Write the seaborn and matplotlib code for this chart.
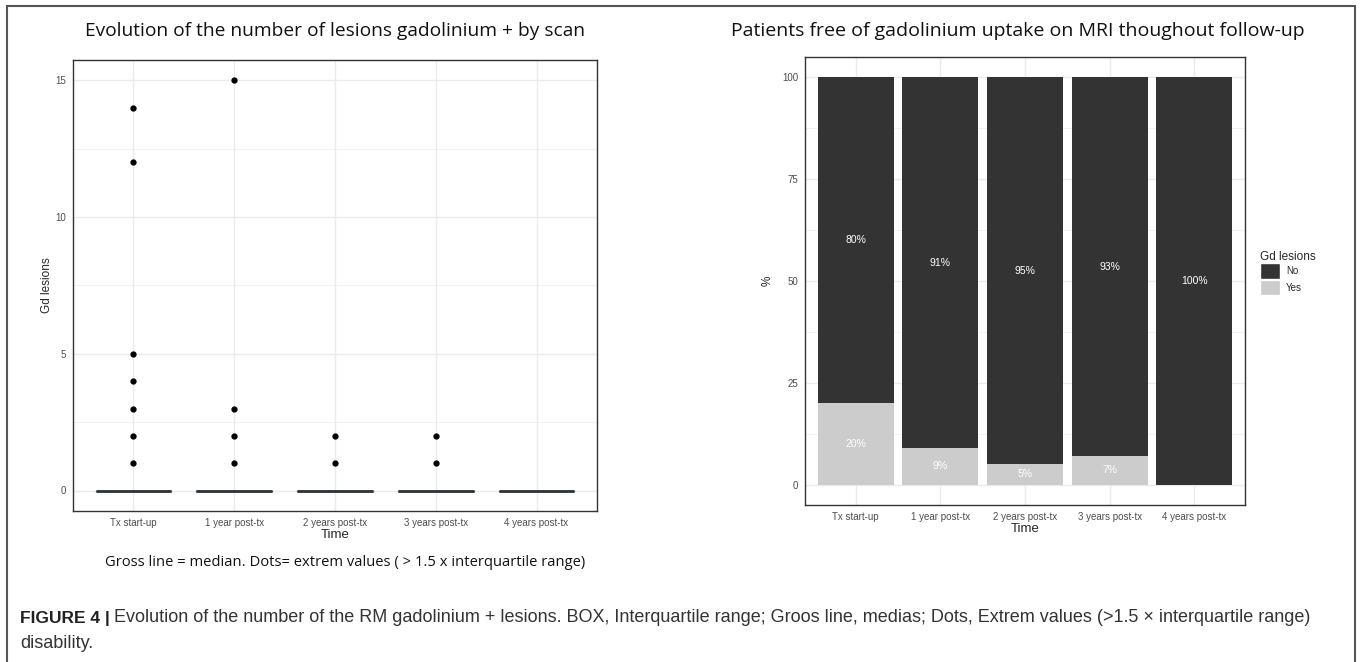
import pandas as pd
import matplotlib
matplotlib.use("Agg")
import matplotlib.pyplot as plt
from matplotlib.patches import Patch, Rectangle
from matplotlib.ticker import MultipleLocator
import seaborn as sns

# scan time points
time_labels = ["Tx start-up", "1 year post-tx", "2 years post-tx", "3 years post-tx", "4 years post-tx"]

# patients without any gadolinium lesion, per scan
zero_counts = [28, 40, 38, 27, 30]
# lesion counts of the patients with uptake (the dots)
lesions_tx = [1, 2, 3, 4, 5, 12, 14]
lesions_1y = [1, 2, 3, 15]
lesions_2y = [1, 2]
lesions_3y = [1, 2]
lesions_4y = []

# percentage of patients by gadolinium status
pct_no = [80, 91, 95, 93, 100]
pct_yes = [20, 9, 5, 7, 0]

# long table for the boxplot
rows = []
for t, n0, les in zip(time_labels, zero_counts, [lesions_tx, lesions_1y, lesions_2y, lesions_3y, lesions_4y]):
    rows += [(t, 0)] * n0
    rows += [(t, v) for v in les]
box_df = pd.DataFrame(rows, columns=["Time", "Gd lesions"])

bar_df = pd.DataFrame({"Time": time_labels, "No": pct_no, "Yes": pct_yes})
bar_df["Total"] = bar_df["No"] + bar_df["Yes"]

sns.set_style("white")
plt.rcParams["font.family"] = ["Liberation Sans", "DejaVu Sans"]

grid_col = "#EBEBEB"
frame_col = "#333333"
tick_col = "#4D4D4D"
W, H = 1360, 662


def ggplot_look(ax):
    ax.set_axisbelow(True)
    ax.grid(which="major", color=grid_col, lw=1.0)
    ax.grid(which="minor", axis="y", color=grid_col, lw=0.5)
    for s in ax.spines.values():
        s.set_color(frame_col)
        s.set_linewidth(1.0)
    ax.tick_params(which="major", length=3, width=0.8, color=frame_col,
                   labelsize=7, labelcolor=tick_col, pad=2)
    ax.tick_params(which="minor", length=0)
    ax.xaxis.label.set_size(9.5)
    ax.yaxis.label.set_size(8.5)


fig = plt.figure(figsize=(13.6, 6.62), dpi=100)

# ---- left: boxplot of lesion counts
ax1 = fig.add_axes([73 / W, (H - 511) / H, 524 / W, 451 / H])
sns.boxplot(data=box_df, x="Time", y="Gd lesions", ax=ax1, width=0.75, whis=1.5,
            fill=False, linecolor=frame_col, linewidth=1.0, showcaps=False,
            medianprops=dict(color=frame_col, linewidth=2.0),
            flierprops=dict(marker="o", markersize=3.5, markerfacecolor="black",
                            markeredgecolor="black"))
ax1.set_xlim(-0.6, 4.6)
ax1.set_ylim(-0.75, 15.75)
ax1.yaxis.set_major_locator(MultipleLocator(5))
ax1.yaxis.set_minor_locator(MultipleLocator(2.5))
ax1.set_xlabel("Time", labelpad=1)
ax1.set_ylabel("Gd lesions", labelpad=2)
ggplot_look(ax1)

# ---- right: stacked percentage bars
ax2 = fig.add_axes([805 / W, (H - 505) / H, 440 / W, 448 / H])
sns.barplot(data=bar_df, x="Time", y="Total", color="#333333", width=0.9,
            saturation=1, ax=ax2, linewidth=0)
sns.barplot(data=bar_df, x="Time", y="Yes", color="#CCCCCC", width=0.9,
            saturation=1, ax=ax2, linewidth=0)
for i, (n, y) in enumerate(zip(pct_no, pct_yes)):
    ax2.text(i, y + n / 2, f"{n}%", color="white", fontsize=7.5, ha="center", va="center")
    if y > 0:
        ax2.text(i, y / 2, f"{y}%", color="white", fontsize=7.5, ha="center", va="center")
ax2.set_xlim(-0.6, 4.6)
ax2.set_ylim(-5, 105)
ax2.yaxis.set_major_locator(MultipleLocator(25))
ax2.yaxis.set_minor_locator(MultipleLocator(12.5))
ax2.set_xlabel("Time", labelpad=1)
ax2.set_ylabel("%", labelpad=6)
ggplot_look(ax2)

handles = [Patch(facecolor="#333333", label="No"), Patch(facecolor="#CCCCCC", label="Yes")]
leg = fig.legend(handles=handles, title="Gd lesions", loc="upper left",
                 bbox_to_anchor=(1260 / W, 1 - 251 / H), frameon=False,
                 fontsize=7, title_fontsize=8.5, handlelength=2.1, handleheight=2.1,
                 handletextpad=0.6, labelspacing=0.05, borderaxespad=0, borderpad=0)
leg._legend_box.align = "left"

# ---- titles and notes
title_font = ["Open Sans", "DejaVu Sans"]
fig.text(335 / W, 1 - 31 / H, "Evolution of the number of lesions gadolinium + by scan",
         ha="center", va="center", fontsize=13.8, family=title_font, color="#111111")
fig.text(1018 / W, 1 - 31 / H, "Patients free of gadolinium uptake on MRI thoughout follow-up",
         ha="center", va="center", fontsize=14, family=title_font, color="#111111")
fig.text(345 / W, 1 - 563 / H,
         "Gross line = median. Dots= extrem values ( > 1.5 x interquartile range)",
         ha="center", va="center", fontsize=10.6, family=title_font, color="#111111")

# caption: bold figure tag followed by the description
fig.canvas.draw()
tag = fig.text(20 / W, 1 - 618 / H, "FIGURE 4 |", ha="left", va="center",
               fontsize=12.5, weight="bold", color="#222222")
tag_box = tag.get_window_extent(renderer=fig.canvas.get_renderer())
fig.text(tag_box.x1 / W + 4 / W, 1 - 618 / H,
         "Evolution of the number of the RM gadolinium + lesions. BOX, Interquartile range; "
         "Groos line, medias; Dots, Extrem values (>1.5 \u00d7 interquartile range)",
         ha="left", va="center", fontsize=13.0, color="#333333")
fig.text(20 / W, 1 - 643 / H, "disability.", ha="left", va="center",
         fontsize=13.0, color="#333333")

# outer frame of the figure panel
fig.add_artist(Rectangle((7 / W, -0.05), 1348 / W, 1.05 - 6 / H,
                         transform=fig.transFigure, fill=False,
                         edgecolor="#555555", lw=1.5))

fig.savefig("out.png", dpi=100)
